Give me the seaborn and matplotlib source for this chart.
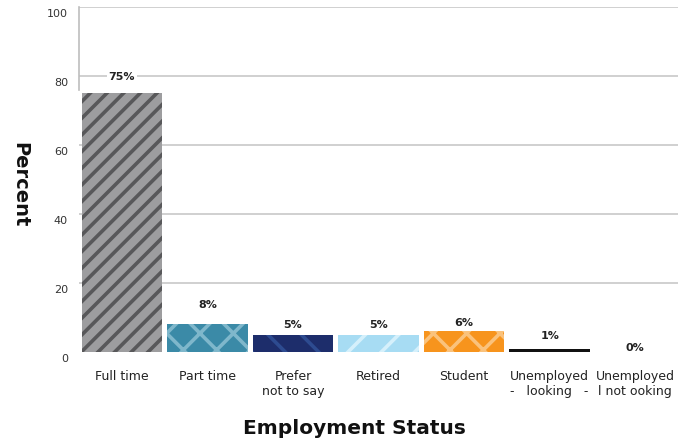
import matplotlib
matplotlib.use("Agg")
import matplotlib.pyplot as plt
import matplotlib.transforms as mtransforms
import seaborn as sns
import pandas as pd

categories = ["Full time", "Part time", "Prefer\nnot to say", "Retired", "Student",
              "Unemployed\n-   looking   -", "Unemployed\nl not ooking"]
percent = [75, 8, 5, 5, 6, 1, 0]
value_labels = ["75%", "8%", "5%", "5%", "6%", "1%", "0%"]

face_colors = ["#9d9d9f", "#3b8aa7", "#1d2d6b", "#a7dcf3", "#f7941d", "#111111", "#ffffff"]
hatch_colors = ["#58585a", "#7fb7cb", "#2d4b90", "#d5f0fb", "#fac27c", "#111111", "#ffffff"]
hatches = ["//", "x", "\\", "/", "x", "", ""]
label_offsets = [12, 14, 7, 7, 6, 9, 3]  # points above bar top

sns.set_theme(style="white")
plt.rcParams["font.family"] = ["DejaVu Sans"]
plt.rcParams["hatch.linewidth"] = 2.6

df = pd.DataFrame({"status": categories, "percent": percent})

fig = plt.figure(figsize=(6.89, 4.42), dpi=100)
ax = fig.add_axes([79 / 689, 1 - 352 / 442, (678 - 79) / 689, (352 - 7) / 442])

sns.barplot(data=df, x="status", y="percent", hue="status", order=categories,
            hue_order=categories, palette=face_colors, width=0.94, saturation=1,
            legend=False, ax=ax, zorder=3)

for patch, hc, h in zip(ax.patches, hatch_colors, hatches):
    patch.set_edgecolor(hc)
    patch.set_linewidth(0)
    patch.set_hatch(h)

ax.set_ylim(0, 100)
ax.set_xlim(-0.5, len(categories) - 0.5)
ax.set_yticks(range(0, 101, 20))
ax.yaxis.grid(True, color="#cdcdcd", linewidth=1.3, zorder=0)
ax.get_ygridlines()[0].set_visible(False)
ax.set_axisbelow(True)

for side in ["top", "right", "bottom"]:
    ax.spines[side].set_visible(False)
ax.spines["left"].set_color("#bdbdbd")
ax.spines["left"].set_linewidth(1.2)
ax.spines["left"].set_bounds(76, 100)

ax.tick_params(axis="both", length=0)
ax.tick_params(axis="y", labelsize=8, labelcolor="#333333", pad=8)
ax.tick_params(axis="x", labelsize=9, labelcolor="#222222", pad=13)
shift = mtransforms.ScaledTranslation(0, -6 / 100, fig.dpi_scale_trans)
for lab in ax.get_yticklabels():
    lab.set_transform(lab.get_transform() + shift)

ax.set_xlabel("")
ax.set_ylabel("")

for i, (v, txt, off) in enumerate(zip(percent, value_labels, label_offsets)):
    ax.annotate(txt, xy=(i, v), xytext=(0, off), textcoords="offset points",
                ha="center", va="center", fontsize=8, fontweight="bold", color="#222222",
                zorder=5, bbox=dict(boxstyle="square,pad=0.15", facecolor="white", edgecolor="none"))

fig.text(20 / 689, 1 - 185 / 442, "Percent", rotation=270, ha="center", va="center",
         fontsize=14, fontweight="bold", color="#111111")
fig.text(354 / 689, 1 - 428 / 442, "Employment Status", ha="center", va="center",
         fontsize=14.5, fontweight="bold", color="#111111")

fig.savefig("out.png", dpi=100)
